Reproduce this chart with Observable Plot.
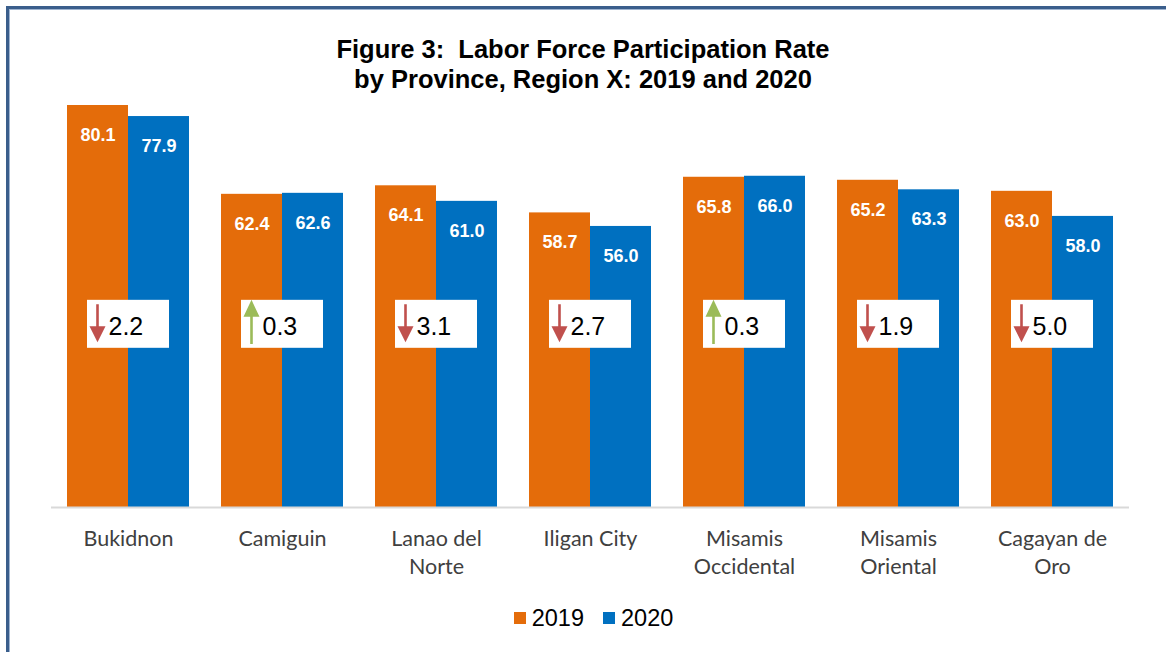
<!DOCTYPE html>
<html>
<head>
<meta charset="utf-8">
<script src="https://cdn.jsdelivr.net/npm/d3@7"></script>
<script src="https://cdn.jsdelivr.net/npm/@observablehq/plot@0.6"></script>
<style>
  html, body { margin: 0; padding: 0; background: #ffffff; overflow: hidden; }
  body { width: 1166px; height: 652px; position: relative; }
  #frame {
    position: absolute; left: 6px; top: 6px; width: 1400px; height: 900px;
    border: 3px solid #3a5e8c; box-shadow: inset 1px 1px 0 #9fb4d0;
    pointer-events: none; z-index: 0;
  }
  #content { position: relative; z-index: 1; width: 1166px; }
  #title {
    padding-top: 34px; height: 59px; text-align: center;
    font-family: "Liberation Sans", Arial, sans-serif; font-weight: bold;
    font-size: 25.5px; line-height: 30px; color: #000;
  }
  #chart svg { display: block; }
  #legend {
    margin-top: 8px; height: 30px; display: flex; justify-content: center; align-items: center;
    padding-left: 21px; box-sizing: border-box; width: 1166px;
    font-family: "Liberation Sans", Arial, sans-serif; font-size: 23.5px; line-height: 30px; color: #000;
  }
  .sw { display: inline-block; width: 12px; height: 12px; margin-right: 6px; }
  .item { display: flex; align-items: center; }
  .item + .item { margin-left: 19px; }
</style>
</head>
<body>
<div id="frame"></div>
<div id="content">
  <div id="title">Figure 3:&nbsp; Labor Force Participation Rate<br>by Province, Region X: 2019 and 2020</div>
  <div id="chart"></div>
  <div id="legend"></div>
</div>
<script>
// ---- data ----
const provinces = ["Bukidnon", "Camiguin", "Lanao del Norte", "Iligan City", "Misamis Occidental", "Misamis Oriental", "Cagayan de Oro"];
const tickLabels = ["Bukidnon", "Camiguin", "Lanao del\nNorte", "Iligan City", "Misamis\nOccidental", "Misamis\nOriental", "Cagayan de\nOro"];
const years = ["2019", "2020"];
const lfpr2019 = [80.1, 62.4, 64.1, 58.7, 65.8, 65.2, 63.0];
const lfpr2020 = [77.9, 62.6, 61.0, 56.0, 66.0, 63.3, 58.0];
const changeLabels = [-2.2, 0.3, -3.1, -2.7, 0.3, -1.9, -5.0];

// ---- styles ----
const ORANGE = "#e46c0a";
const BLUE = "#0070c0";
const RED = "#c0504d";
const GREEN = "#9bbb59";
const BOX_Y = 36.5;      // vertical centre of the change boxes (in axis units)
const BOX_HALF = 4.78;   // half height of the change boxes (in axis units)

const rows = provinces.map((p, i) => ({
  province: p,
  v2019: lfpr2019[i],
  v2020: lfpr2020[i],
  change: changeLabels[i]
}));

// custom arrow symbols (pixel geometry of the glyph)
const downArrow = {
  draw(ctx) {
    ctx.moveTo(-1.3, -20); ctx.lineTo(1.3, -20); ctx.lineTo(1.3, 2);
    ctx.lineTo(8, 2); ctx.lineTo(0, 18); ctx.lineTo(-8, 2); ctx.lineTo(-1.3, 2);
    ctx.closePath();
  }
};
const upArrow = {
  draw(ctx) {
    ctx.moveTo(0, -24.5); ctx.lineTo(8, -7.5); ctx.lineTo(1.3, -7.5); ctx.lineTo(1.3, 19.8);
    ctx.lineTo(-1.3, 19.8); ctx.lineTo(-1.3, -7.5); ctx.lineTo(-8, -7.5);
    ctx.closePath();
  }
};

const FONT = "'Liberation Sans', Arial, sans-serif";

const chart = Plot.plot({
  width: 1166,
  height: 502,
  marginTop: 12.5,
  marginBottom: 88,
  marginLeft: 51,
  marginRight: 37,
  style: { fontFamily: FONT, overflow: "visible", background: "transparent" },
  x: { domain: provinces, paddingInner: 0.2078, paddingOuter: 0.1039, axis: null },
  y: { domain: [0, 80], axis: null },
  marks: [
    Plot.barY(rows, { x: "province", y: "v2019", fill: ORANGE, insetRight: 61 }),
    Plot.barY(rows, { x: "province", y: "v2020", fill: BLUE, insetLeft: 61 }),
    Plot.ruleY([0], { stroke: "#d9d9d9", strokeWidth: 2 }),
    Plot.text(rows, { x: "province", y: "v2019", text: d => d.v2019.toFixed(1), dx: -30.5, dy: 29.5,
      fill: "white", fontWeight: "bold", fontSize: 18, fontFamily: FONT }),
    Plot.text(rows, { x: "province", y: "v2020", text: d => d.v2020.toFixed(1), dx: 30.5, dy: 29.5,
      fill: "white", fontWeight: "bold", fontSize: 18, fontFamily: FONT }),
    Plot.barY(rows, { x: "province", y1: () => BOX_Y - BOX_HALF, y2: () => BOX_Y + BOX_HALF,
      fill: "white", insetLeft: 20, insetRight: 20 }),
    Plot.dot(rows.filter(d => d.change < 0), { x: "province", y: () => BOX_Y, dx: -31,
      symbol: downArrow, fill: RED, stroke: "none" }),
    Plot.dot(rows.filter(d => d.change >= 0), { x: "province", y: () => BOX_Y, dx: -31,
      symbol: upArrow, fill: GREEN, stroke: "none" }),
    Plot.text(rows, { x: "province", y: () => BOX_Y, text: d => Math.abs(d.change).toFixed(1),
      dx: -20, dy: 3, textAnchor: "start", fill: "#000", fontSize: 25, fontFamily: FONT }),
    Plot.axisX({ tickSize: 0, tickPadding: 19, fontSize: 21.5, fontFamily: "Lato",
      fill: "#404040", lineHeight: 1.3, label: null,
      tickFormat: d => tickLabels[provinces.indexOf(d)] })
  ]
});
document.getElementById("chart").appendChild(chart);

// legend
const legend = document.getElementById("legend");
const colors = [ORANGE, BLUE];
years.forEach((yr, i) => {
  const item = document.createElement("div");
  item.className = "item";
  const sw = document.createElement("span");
  sw.className = "sw";
  sw.style.background = colors[i];
  const t = document.createElement("span");
  t.textContent = yr;
  item.appendChild(sw);
  item.appendChild(t);
  legend.appendChild(item);
});
</script>
</body>
</html>
